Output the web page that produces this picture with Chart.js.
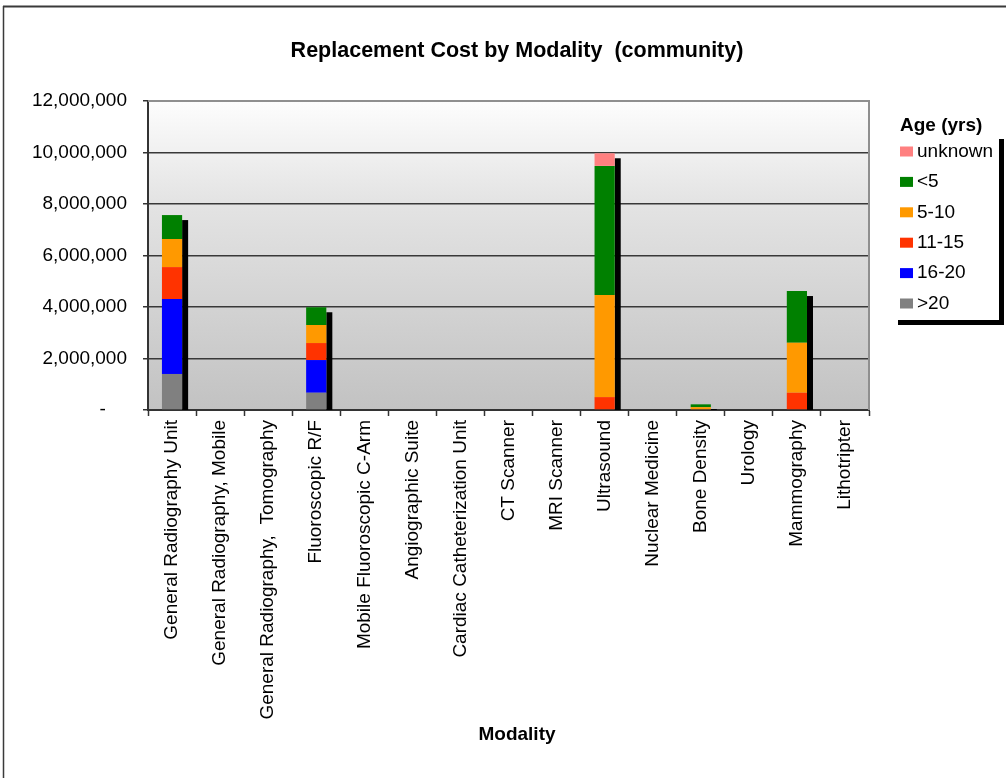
<!DOCTYPE html>
<html>
<head>
<meta charset="utf-8">
<script src="https://cdn.jsdelivr.net/npm/chart.js@4"></script>
<style>
  html, body { margin: 0; padding: 0; background: #fff; }
  #wrap { width: 1006px; height: 778px; }
</style>
</head>
<body>
<div id="wrap"><canvas id="costChart" width="1006" height="778"></canvas></div>
<script>
// categories along the x axis
const modalities = [
  'General Radiography Unit',
  'General Radiography, Mobile',
  'General Radiography,  Tomography',
  'Fluoroscopic R/F',
  'Mobile Fluoroscopic C-Arm',
  'Angiographic Suite',
  'Cardiac Catheterization Unit',
  'CT Scanner',
  'MRI Scanner',
  'Ultrasound',
  'Nuclear Medicine',
  'Bone Density',
  'Urology',
  'Mammography',
  'Lithotripter'
];

// replacement cost per age group (stacked bottom to top)
const over20   = [1400000, 0, 0, 670000, 0, 0, 0, 0, 0, 0, 0, 0, 0, 0, 0];
const age16_20 = [2910000, 0, 0, 1270000, 0, 0, 0, 0, 0, 0, 0, 0, 0, 0, 0];
const age11_15 = [1240000, 0, 0, 660000, 0, 0, 0, 0, 0, 500000, 0, 0, 0, 670000, 0];
const age5_10  = [1090000, 0, 0, 700000, 0, 0, 0, 0, 0, 3970000, 0, 110000, 0, 1940000, 0];
const under5   = [930000, 0, 0, 690000, 0, 0, 0, 0, 0, 5010000, 0, 110000, 0, 2010000, 0];
const unknown  = [0, 0, 0, 0, 0, 0, 0, 0, 0, 490000, 0, 0, 0, 0, 0];

const yTicks = [0, 2000000, 4000000, 6000000, 8000000, 10000000, 12000000];

const FONT = "'Liberation Sans', Arial, sans-serif";

function makeSet(label, data, color) {
  return { label: label, data: data, backgroundColor: color, borderWidth: 0,
           barPercentage: 0.42, categoryPercentage: 1.0 };
}

// page frame, plot background, and the right/top plot border
const frameAndPlot = {
  id: 'frameAndPlot',
  beforeDraw(chart) {
    const ctx = chart.ctx, a = chart.chartArea;
    ctx.save();
    ctx.fillStyle = '#ffffff';
    ctx.fillRect(0, 0, chart.width, chart.height);
    ctx.strokeStyle = '#3a3a3a';
    ctx.lineWidth = 2;
    ctx.beginPath();
    ctx.moveTo(3, 6.5); ctx.lineTo(chart.width, 6.5);
    ctx.stroke();
    ctx.lineWidth = 1.5;
    ctx.beginPath();
    ctx.moveTo(3.5, 6); ctx.lineTo(3.5, chart.height);
    ctx.stroke();
    const g = ctx.createLinearGradient(0, a.top, 0, a.bottom);
    g.addColorStop(0, '#fdfdfd');
    g.addColorStop(0.32, '#e4e4e4');
    g.addColorStop(1, '#c2c2c2');
    ctx.fillStyle = g;
    ctx.fillRect(a.left, a.top, a.right - a.left, a.bottom - a.top);
    ctx.restore();
  },
  afterDraw(chart) {
    const ctx = chart.ctx, a = chart.chartArea;
    ctx.save();
    ctx.strokeStyle = '#8f8f8f';
    ctx.lineWidth = 2;
    ctx.beginPath();
    ctx.moveTo(a.left, a.top); ctx.lineTo(a.right, a.top); ctx.lineTo(a.right, a.bottom);
    ctx.stroke();
    ctx.restore();
  }
};

// black drop shadow to the right of each stacked column
const columnShadow = {
  id: 'columnShadow',
  beforeDatasetsDraw(chart) {
    const ctx = chart.ctx, y = chart.scales.y;
    const meta = chart.getDatasetMeta(0);
    const base = y.getPixelForValue(0);
    ctx.save();
    ctx.fillStyle = '#000000';
    meta.data.forEach((bar, i) => {
      let total = 0;
      chart.data.datasets.forEach(ds => { total += ds.data[i]; });
      if (!total) return;
      const top = Math.min(y.getPixelForValue(total) + 5, base - 1);
      ctx.fillRect(bar.x + bar.width / 2, top, 6, base - top);
    });
    ctx.restore();
  }
};

// legend box with shadow and the "Age (yrs)" caption above it
const ageLegend = {
  id: 'ageLegend',
  afterDraw(chart) {
    const ctx = chart.ctx;
    const bx = chart.chartArea.right + 24, by = 134, bw = 106, bh = 186;
    ctx.save();
    ctx.fillStyle = '#000000';
    ctx.fillRect(bx + 5, by + 5, bw, bh);
    ctx.fillStyle = '#ffffff';
    ctx.fillRect(bx, by, bw, bh);
    ctx.fillStyle = '#000000';
    ctx.textBaseline = 'middle';
    ctx.textAlign = 'left';
    ctx.font = 'bold 19px ' + FONT;
    ctx.fillText('Age (yrs)', bx + 7, 126);
    ctx.font = '19px ' + FONT;
    const sets = chart.data.datasets.slice().reverse();
    sets.forEach((ds, i) => {
      const cy = 151.5 + i * 30.4;
      ctx.fillStyle = ds.backgroundColor;
      ctx.fillRect(bx + 7, cy - 5, 13, 10);
      ctx.fillStyle = '#000000';
      ctx.fillText(ds.label, bx + 24, cy);
    });
    ctx.restore();
  }
};

const data = {
  labels: modalities,
  datasets: [
    makeSet('>20', over20, '#808080'),
    makeSet('16-20', age16_20, '#0000ff'),
    makeSet('11-15', age11_15, '#ff3300'),
    makeSet('5-10', age5_10, '#ff9900'),
    makeSet('<5', under5, '#008000'),
    makeSet('unknown', unknown, '#ff8080')
  ]
};

const config = {
  type: 'bar',
  data: data,
  options: {
    responsive: false,
    animation: false,
    layout: { padding: { left: 28, right: 0, top: 0, bottom: 0 } },
    plugins: {
      legend: { display: false },
      tooltip: { enabled: false },
      title: {
        display: true,
        text: 'Replacement Cost by Modality  (community)',
        color: '#000000',
        font: { family: FONT, size: 21.5, weight: 'bold', lineHeight: 1.2 },
        padding: { top: 38.5, bottom: 36.7 }
      },
      subtitle: {
        display: true,
        position: 'bottom',
        text: 'Modality',
        color: '#000000',
        font: { family: FONT, size: 19, weight: 'bold', lineHeight: 1.2 },
        padding: { top: 0, bottom: 32 }
      }
    },
    scales: {
      x: {
        stacked: true,
        offset: true,
        grid: { offset: true, drawOnChartArea: false, drawTicks: true, tickLength: 6,
                tickColor: '#333333', tickWidth: 1.5 },
        border: { color: '#333333', width: 2 },
        ticks: { autoSkip: false, maxRotation: 90, minRotation: 90, padding: 4,
                 color: '#000000', font: { family: FONT, size: 19 } },
        afterFit(s) { s.height = 313.2; }
      },
      y: {
        stacked: true,
        min: 0,
        max: 12000000,
        afterBuildTicks(s) { s.ticks = yTicks.map(v => ({ value: v })); },
        grid: {
          color: ctx => (ctx.tick && ctx.tick.value === 12000000) ? 'rgba(0,0,0,0)' : '#383838',
          lineWidth: 1.5,
          tickColor: '#333333',
          tickLength: 5,
          tickWidth: 1.5
        },
        border: { color: '#333333', width: 2 },
        ticks: {
          padding: 16,
          color: '#000000',
          font: { family: FONT, size: 19 },
          callback: v => v === 0 ? '-    ' : v.toLocaleString('en-US')
        },
        afterFit(s) { s.width = 120; }
      },
      side: {
        type: 'linear',
        position: 'right',
        display: true,
        grid: { display: false, drawTicks: false },
        border: { display: false },
        ticks: { display: false },
        afterFit(s) { s.width = 137; }
      }
    }
  },
  plugins: [frameAndPlot, columnShadow, ageLegend]
};

const costChart = new Chart(document.getElementById('costChart'), config);
</script>
</body>
</html>
